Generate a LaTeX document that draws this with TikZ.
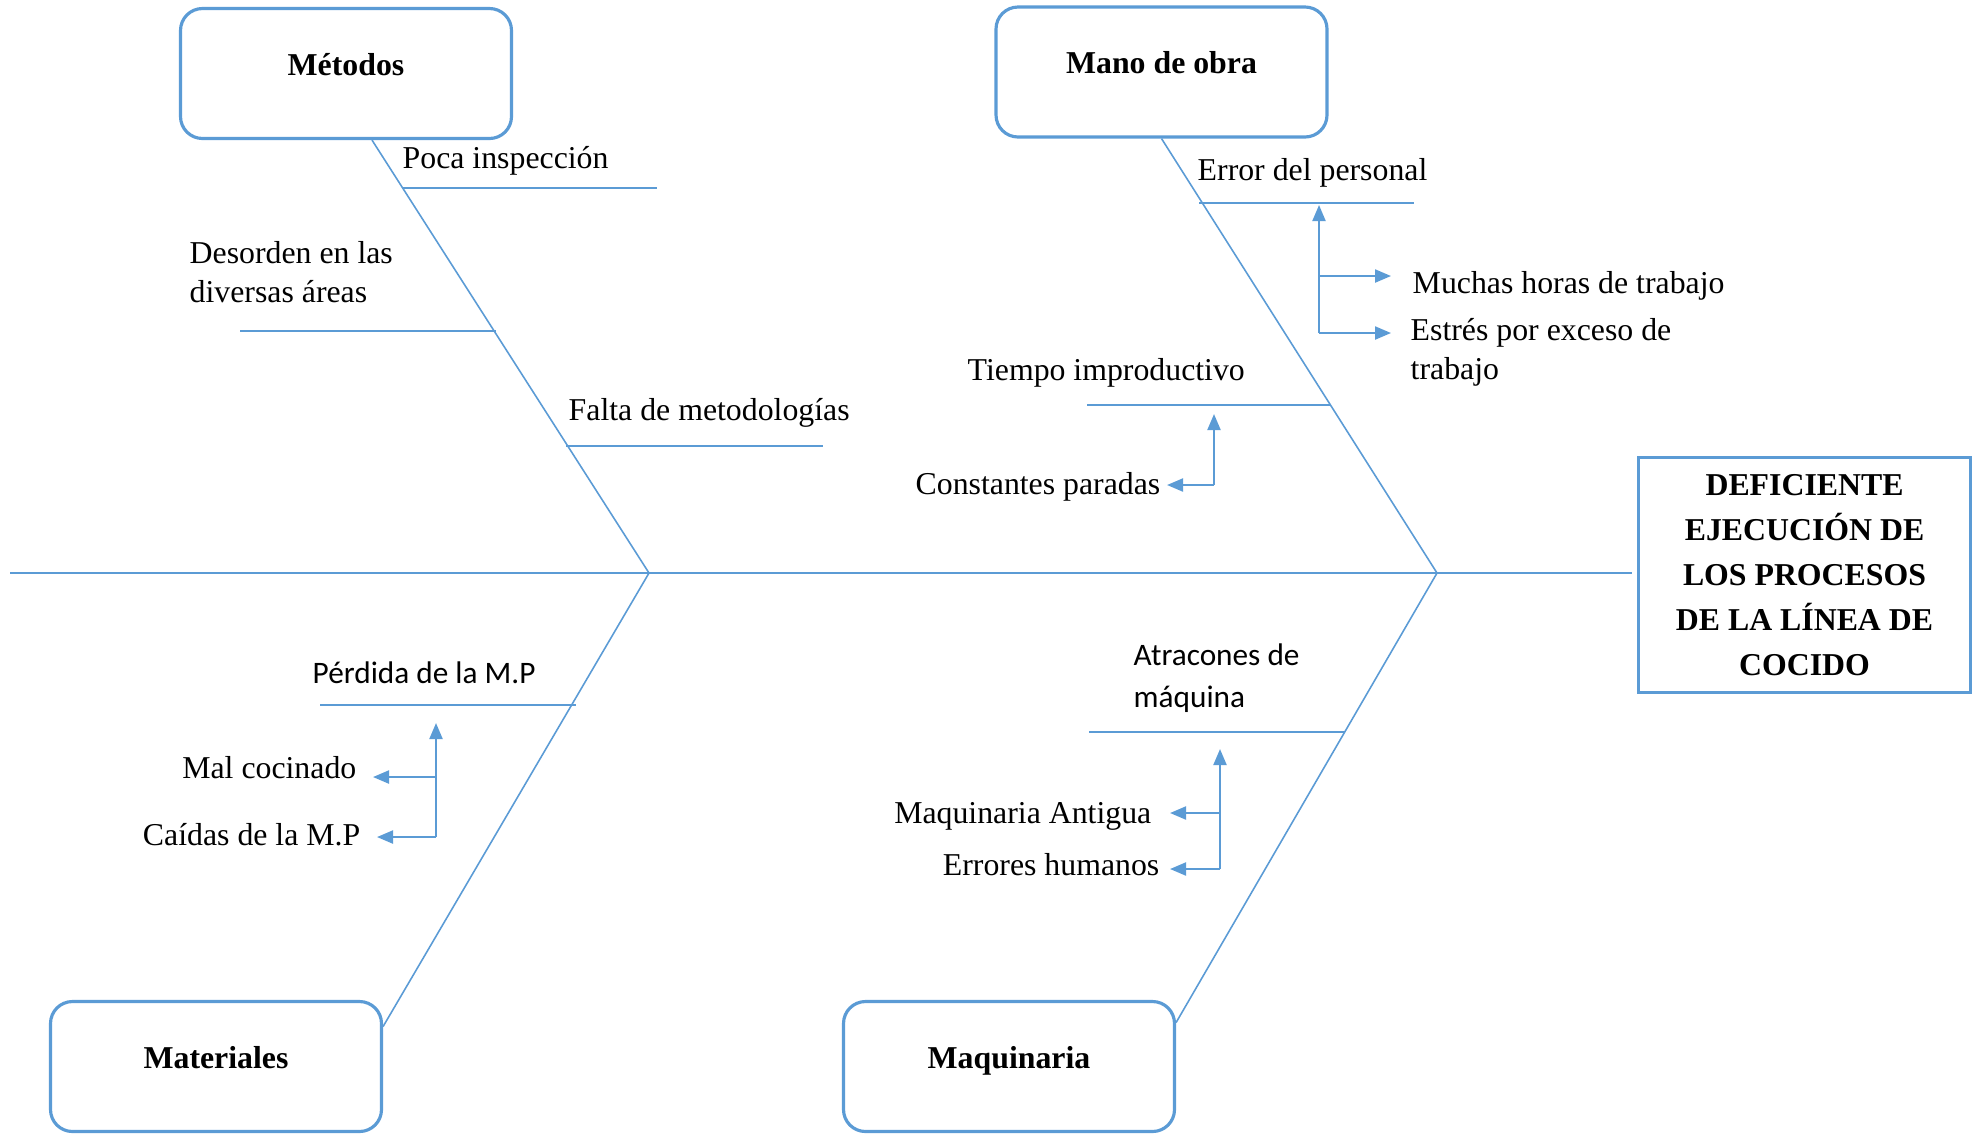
\documentclass[tikz,border=0pt]{standalone}
\usepackage{fontspec}
\setmainfont{Liberation Serif}
\newfontfamily\calibri{Carlito}
\usetikzlibrary{arrows.meta}
\definecolor{fishblue}{HTML}{5B9BD5}

\begin{document}
\begin{tikzpicture}[x=1mm, y=-1mm,
  font=\fontsize{9.05}{11}\selectfont,
  bone/.style={draw=fishblue, line width=0.45pt},
  cat/.style={draw=fishblue, line width=0.9pt, rounded corners=2.2mm, minimum width=33.1mm,
    minimum height=13mm, inner sep=0, text height=2.4mm, text depth=2.1mm,
    font=\fontsize{9.05}{11}\selectfont\bfseries},
  effect/.style={draw=fishblue, line width=0.9pt, minimum width=33.2mm, minimum height=23.5mm,
    align=center, font=\fontsize{9.05}{12.8}\selectfont\bfseries},
  cause/.style={anchor=base west, inner sep=0, align=left},
  sub/.style={anchor=base east, inner sep=0},
  sans/.style={font=\calibri\fontsize{8.9}{11.9}\selectfont},
  arr/.style={draw=fishblue, line width=0.6pt, -{Triangle[length=1.6mm, width=1.3mm]}}]
\useasboundingbox (0,0) rectangle (197.9,113.4);
\newcommand{\fork}[5]{% x, y of lowest branch, y of upper tip, anchor, list of y/node/gap
  \draw[arr] (#1,#2) -- (#1,#3);
  \foreach \y/\n/\g in {#5} {
    \coordinate (f) at (#1,\y);
    \draw[arr, shorten >=\g mm] (f) -- (f -| \n.#4);
  }}

% head and spine
\node[effect] (effect) at (180.45,57.5) {DEFICIENTE\\EJECUCIÓN DE\\LOS PROCESOS\\DE LA LÍNEA DE\\COCIDO};
\coordinate (tail) at (1.0,57.3);
\coordinate (j1) at (64.9,57.3);
\coordinate (j2) at (143.7,57.3);
\draw[bone, shorten >=0.5mm] (tail) -- (tail -| effect.west);

% categories
\node[cat] (metodos) at (34.6,7.35) {Métodos};
\node[cat] (mano) at (116.15,7.2) {Mano de obra};
\node[cat] (materiales) at (21.6,106.65) {Materiales};
\node[cat] (maquinaria) at (100.9,106.65) {Maquinaria};
\draw[bone] ([xshift=2.6mm]metodos.south) -- (j1) -- ([yshift=4mm]materiales.east);
\draw[bone] (mano.south) -- (j2) -- ([yshift=4.4mm]maquinaria.east);

% Métodos
\node[cause] (poca) at (40.2,16.8) {Poca inspección};
\draw[bone] ([yshift=-2mm]poca.base west) -- ++(25.5,0);
\node[cause] (desorden) at (18.9,30.2) {Desorden en las\\diversas áreas};
\draw[bone] ([xshift=5.1mm, yshift=-2.9mm]desorden.base west) -- ++(25.6,0);
\node[cause] (falta) at (56.8,42.0) {Falta de metodologías};
\draw[bone] ([xshift=-0.2mm, yshift=-2.6mm]falta.base west) -- ++(25.7,0);

% Mano de obra
\node[cause] (error) at (119.7,18.0) {Error del personal};
\draw[bone] ([xshift=0.2mm, yshift=-2.3mm]error.base west) -- ++(21.5,0);
\node[cause] (muchas) at (141.2,29.3) {Muchas horas de trabajo};
\node[cause] (estres) at (141.0,37.9) {Estrés por exceso de\\trabajo};
\fork{131.9}{33.3}{20.5}{west}{27.6/muchas/2.1, 33.3/estres/1.9}
\node[cause] (tiempo) at (96.7,38.0) {Tiempo improductivo};
\draw[bone] ([xshift=12mm, yshift=-2.5mm]tiempo.base west) -- ++(24.3,0);
\node[sub] (constantes) at (116.1,49.4) {Constantes paradas};
\fork{121.4}{48.5}{41.4}{east}{48.5/constantes/0.6}

% Materiales
\node[cause, sans] (perdida) at (31.2,68.3) {Pérdida de la M.P};
\draw[bone] ([xshift=0.8mm, yshift=-2.2mm]perdida.base west) -- ++(25.6,0);
\node[sub] (malcoc) at (35.7,77.8) {Mal cocinado};
\node[sub] (caidas) at (36.1,84.5) {Caídas de la M.P};
\fork{43.6}{83.7}{72.3}{east}{77.7/malcoc/1.6, 83.7/caidas/1.6}

% Maquinaria
\node[cause, sans] (atracones) at (113.3,70.7) {Atracones de\\máquina};
\draw[bone] ([xshift=-4.4mm, yshift=-2.5mm]atracones.base west) -- ++(25.6,0);
\node[sub] (antigua) at (115.2,82.3) {Maquinaria Antigua};
\node[sub] (errores) at (116.0,87.5) {Errores humanos};
\fork{122.0}{86.9}{74.9}{east}{81.3/antigua/1.8, 86.9/errores/1.0}
\end{tikzpicture}
\end{document}
